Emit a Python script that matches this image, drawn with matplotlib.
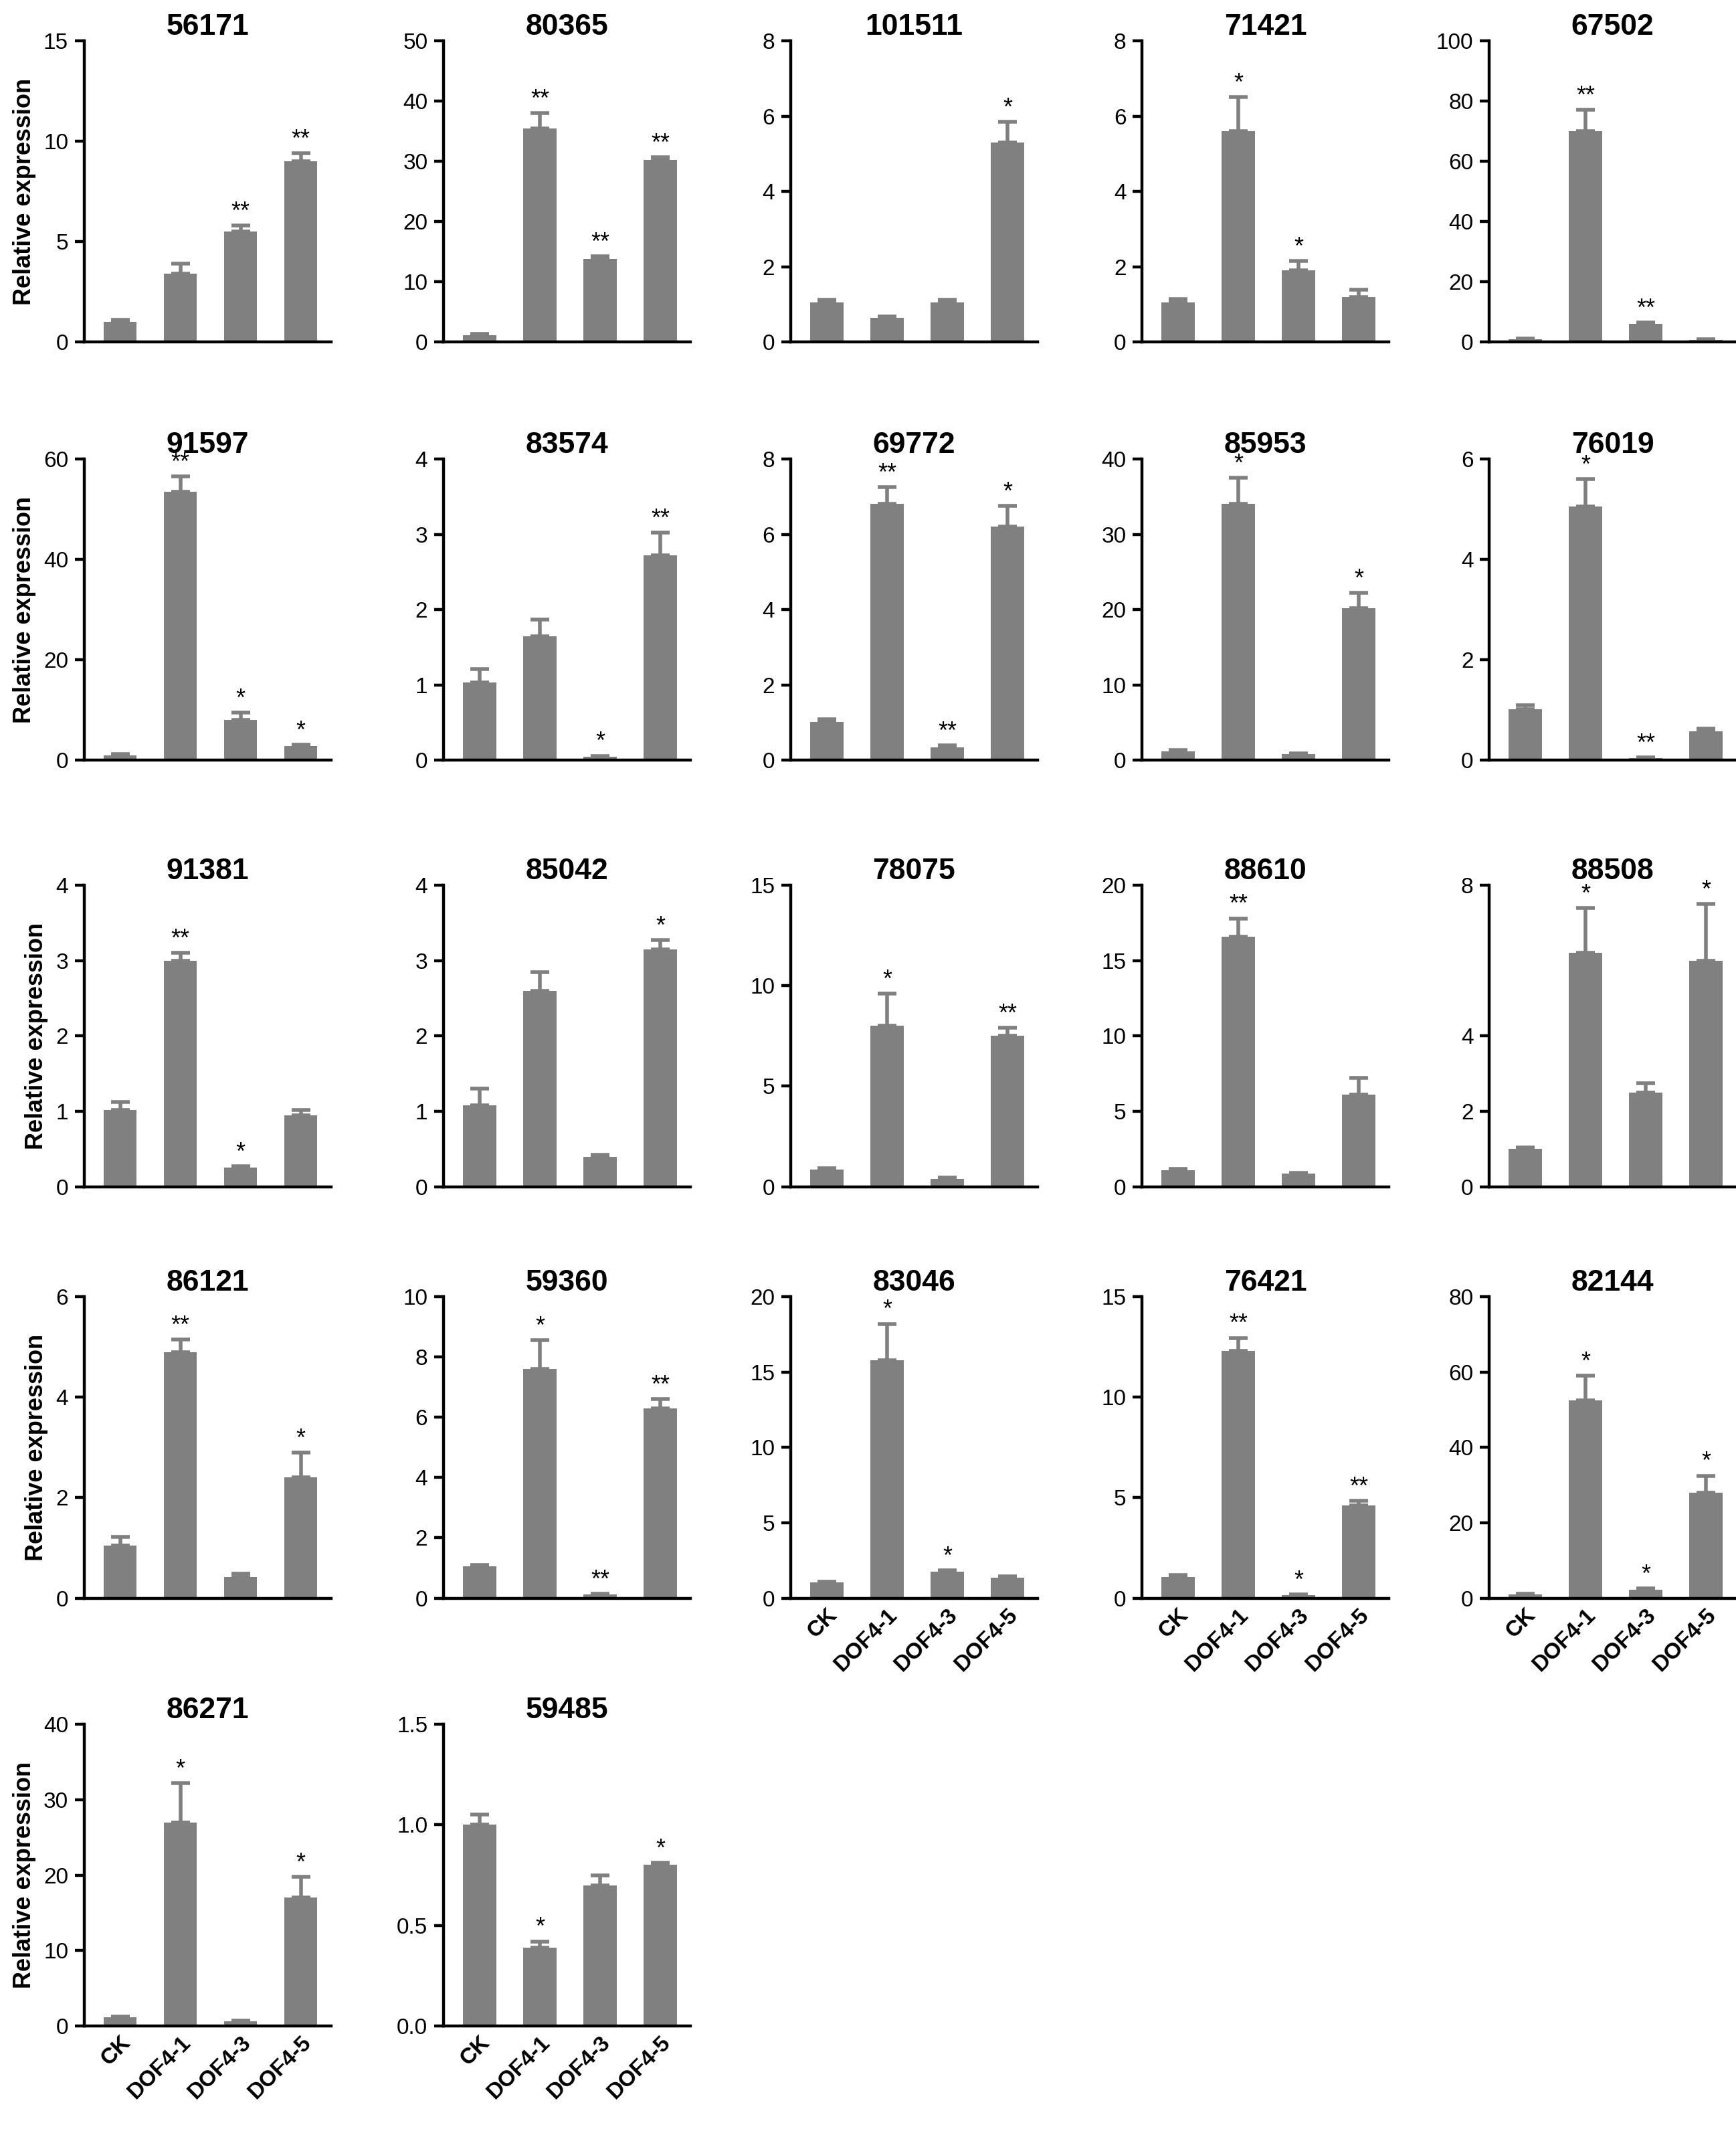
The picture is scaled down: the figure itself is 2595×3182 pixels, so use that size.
import matplotlib
matplotlib.use("Agg")
import matplotlib.pyplot as plt
import numpy as np

groups = ["CK", "DOF4-1", "DOF4-3", "DOF4-5"]

genes = ["56171", "80365", "101511", "71421", "67502",
         "91597", "83574", "69772", "85953", "76019",
         "91381", "85042", "78075", "88610", "88508",
         "86121", "59360", "83046", "76421", "82144",
         "86271", "59485"]

means = [
    [1.0, 3.4, 5.5, 9.0], [1.2, 35.5, 13.8, 30.2], [1.05, 0.65, 1.05, 5.3],
    [1.05, 5.6, 1.9, 1.2], [1.0, 70.0, 6.0, 0.8],
    [1.0, 53.5, 8.0, 2.8], [1.03, 1.65, 0.05, 2.72], [1.02, 6.8, 0.35, 6.2],
    [1.2, 34.0, 0.8, 20.2], [1.02, 5.05, 0.05, 0.58],
    [1.02, 3.0, 0.25, 0.95], [1.08, 2.6, 0.4, 3.15], [0.85, 8.0, 0.4, 7.5],
    [1.1, 16.6, 0.85, 6.1], [1.0, 6.2, 2.5, 6.0],
    [1.05, 4.9, 0.42, 2.4], [1.05, 7.6, 0.12, 6.3], [1.05, 15.8, 1.75, 1.35],
    [1.05, 12.3, 0.15, 4.6], [1.0, 52.5, 2.2, 28.0],
    [1.1, 27.0, 0.6, 17.0], [1.0, 0.39, 0.70, 0.80],
]
errors = [
    [0.1, 0.5, 0.3, 0.4], [0.2, 2.5, 0.4, 0.5], [0.07, 0.03, 0.07, 0.55],
    [0.1, 0.9, 0.25, 0.2], [0.2, 7.0, 0.5, 0.2],
    [0.2, 3.0, 1.5, 0.3], [0.18, 0.22, 0.01, 0.3], [0.07, 0.45, 0.05, 0.55],
    [0.2, 3.5, 0.1, 2.0], [0.08, 0.55, 0.01, 0.05],
    [0.1, 0.1, 0.02, 0.07], [0.22, 0.25, 0.02, 0.12], [0.08, 1.6, 0.05, 0.4],
    [0.1, 1.2, 0.08, 1.1], [0.05, 1.2, 0.25, 1.5],
    [0.17, 0.25, 0.06, 0.5], [0.05, 0.95, 0.02, 0.3], [0.05, 2.4, 0.1, 0.08],
    [0.1, 0.65, 0.02, 0.25], [0.2, 6.5, 0.3, 4.5],
    [0.15, 5.2, 0.1, 2.8], [0.05, 0.03, 0.05, 0.01],
]
signif = [
    ["", "", "**", "**"], ["", "**", "**", "**"], ["", "", "", "*"],
    ["", "*", "*", ""], ["", "**", "**", ""],
    ["", "**", "*", "*"], ["", "", "*", "**"], ["", "**", "**", "*"],
    ["", "*", "", "*"], ["", "*", "**", ""],
    ["", "**", "*", ""], ["", "", "", "*"], ["", "*", "", "**"],
    ["", "**", "", ""], ["", "*", "", "*"],
    ["", "**", "", "*"], ["", "*", "**", "**"], ["", "*", "*", ""],
    ["", "**", "*", "**"], ["", "*", "*", "*"],
    ["", "*", "", "*"], ["", "*", "", "*"],
]
yticks = [
    [0, 5, 10, 15], [0, 10, 20, 30, 40, 50], [0, 2, 4, 6, 8], [0, 2, 4, 6, 8],
    [0, 20, 40, 60, 80, 100],
    [0, 20, 40, 60], [0, 1, 2, 3, 4], [0, 2, 4, 6, 8], [0, 10, 20, 30, 40],
    [0, 2, 4, 6],
    [0, 1, 2, 3, 4], [0, 1, 2, 3, 4], [0, 5, 10, 15], [0, 5, 10, 15, 20],
    [0, 2, 4, 8],
    [0, 2, 4, 6], [0, 2, 4, 6, 8, 10], [0, 5, 10, 15, 20], [0, 5, 10, 15],
    [0, 20, 40, 60, 80],
    [0, 10, 20, 30, 40], [0.0, 0.5, 1.0, 1.5],
]
show_xlabels = {17, 18, 19, 20, 21}

plt.rcParams["font.family"] = ["Liberation Sans", "DejaVu Sans"]
fig = plt.figure(figsize=(12.975, 15.91), dpi=200)

col_left = [62, 327, 583, 842, 1098]
row_top = [30, 338, 652, 955, 1270]
W, H = 1280.0, 1568.0
aw, ah = 182, 222

for i, g in enumerate(genes):
    r, c = divmod(i, 5)
    ax = fig.add_axes([col_left[c] / W, 1 - (row_top[r] + ah) / H, aw / W, ah / H])
    x = np.arange(4)
    ax.bar(x, means[i], width=0.55, color="#808080")
    ax.errorbar(x, means[i], yerr=[np.zeros(4), errors[i]], fmt="none",
                ecolor="#808080", elinewidth=2, capsize=5, capthick=2)
    top = yticks[i][-1]
    for j in range(4):
        if signif[i][j]:
            ax.text(x[j], means[i][j] + errors[i][j] + top * 0.005, signif[i][j],
                    ha="center", va="bottom", fontsize=13)
    ax.set_ylim(0, top)
    ax.set_yticks(yticks[i])
    if top == 1.5:
        ax.set_yticklabels([f"{v:.1f}" for v in yticks[i]])
    ax.set_xlim(-0.6, 3.5)
    ax.spines["top"].set_visible(False)
    ax.spines["right"].set_visible(False)
    ax.spines["left"].set_linewidth(1.6)
    ax.spines["bottom"].set_linewidth(1.6)
    ax.tick_params(axis="y", labelsize=12, width=1.6, length=5)
    if i in show_xlabels:
        ax.set_xticks(x)
        ax.set_xticklabels(groups, rotation=45, ha="right", rotation_mode="anchor",
                           fontsize=12, fontweight="bold")
        ax.tick_params(axis="x", length=0)
    else:
        ax.set_xticks([])
    ax.set_title(g, fontsize=16, fontweight="bold", pad=2)
    if c == 0:
        ax.set_ylabel("Relative expression", fontsize=13, fontweight="bold")

fig.savefig("out.png", dpi=200)
